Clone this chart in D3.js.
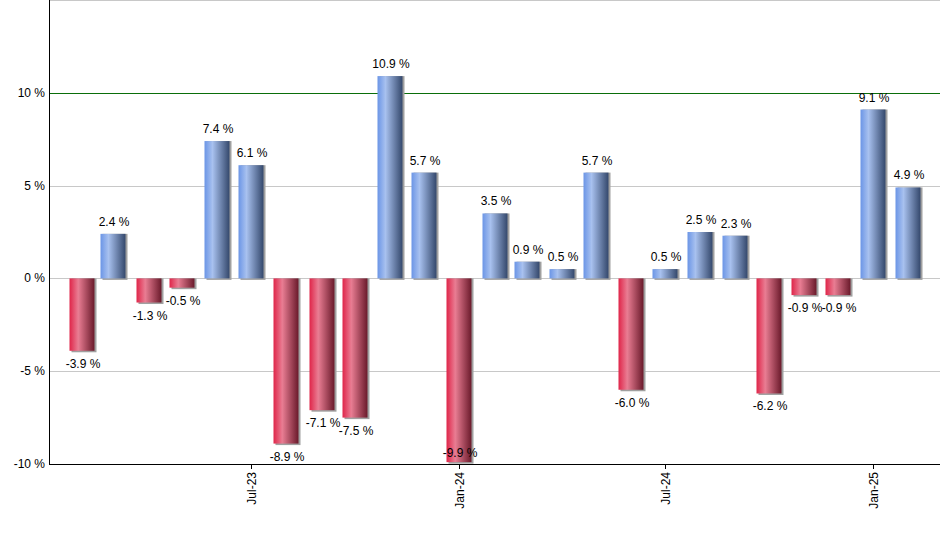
<!DOCTYPE html>
<html><head><meta charset="utf-8">
<script src="https://cdn.jsdelivr.net/npm/d3@7"></script>
<style>body{margin:0;background:#fff}svg{display:block;font-family:"Liberation Sans",Arial,sans-serif}</style>
</head><body><svg id="c" width="940" height="550"></svg>
<script>
const months = ["2023-02","2023-03","2023-04","2023-05","2023-06","2023-07","2023-08","2023-09","2023-10","2023-11","2023-12","2024-01","2024-02","2024-03","2024-04","2024-05","2024-06","2024-07","2024-08","2024-09","2024-10","2024-11","2024-12","2025-01","2025-02"];
const values = [-3.9,2.4,-1.3,-0.5,7.4,6.1,-8.9,-7.1,-7.5,10.9,5.7,-9.9,3.5,0.9,0.5,5.7,-6.0,0.5,2.5,2.3,-6.2,-0.9,-0.9,9.1,4.9];
const xTickMonths = ["2023-07","2024-01","2024-07","2025-01"];
const xTickLabels = ["Jul-23","Jan-24","Jul-24","Jan-25"];
const yTicks = [-10,-5,0,5,10];
const gridTicks = [-5,0,5,15];

const parse = d3.utcParse("%Y-%m");
const svg = d3.select("#c");
const L = 49, R = 940, T = 0, B = 464, BW = 25;
const y = d3.scaleLinear().domain([-10,15]).range([B,T]);
const x = d3.scaleUtc().domain([Date.UTC(2023,0,3), Date.UTC(2025,2,1)]).range([L,R]);

const defs = svg.append("defs");
function grad(id, stops){
  const g = defs.append("linearGradient").attr("id",id).attr("x1","0").attr("x2","1").attr("y1","0").attr("y2","0");
  stops.forEach(s=>g.append("stop").attr("offset",s[0]).attr("stop-color",s[1]));
}
grad("gPos",[["0%","#6b95e6"],["32%","#a8c1ef"],["100%","#34486c"]]);
grad("gNeg",[["0%","#df2549"],["35%","#e97d93"],["100%","#6a1a2b"]]);

// grid
svg.append("g").selectAll("line").data(gridTicks).join("line")
  .attr("x1",L).attr("x2",R).attr("y1",d=>Math.round(y(d))+0.5).attr("y2",d=>Math.round(y(d))+0.5)
  .attr("stroke","#c8c8c8").attr("stroke-width",1);
svg.append("line").attr("x1",L).attr("x2",R).attr("y1",Math.round(y(10))+0.5).attr("y2",Math.round(y(10))+0.5)
  .attr("stroke","#0a6e0a").attr("stroke-width",1);

// bars
const data = months.map((m,i)=>({d: parse(m), v: values[i]}));
const cx = d => Math.round(x(d.d));
const bars = svg.append("g");
bars.selectAll("rect.sh").data(data).join("rect").attr("class","sh")
  .attr("x",d=>cx(d)-BW/2+2).attr("width",BW)
  .attr("y",d=>Math.min(y(d.v),y(0))).attr("height",d=>Math.abs(y(d.v)-y(0))+1.5)
  .attr("fill","#a0a0a0");
bars.selectAll("rect.b").data(data).join("rect").attr("class","b")
  .attr("x",d=>cx(d)-BW/2).attr("width",BW)
  .attr("y",d=>Math.min(y(d.v),y(0))).attr("height",d=>Math.abs(y(d.v)-y(0)))
  .attr("fill",d=>d.v>=0?"url(#gPos)":"url(#gNeg)");

// labels
const labelY = d => {
  if (d.v >= 0) return y(d.v) - 8;
  const p = y(d.v) + 17;
  return p > B ? B - 7 : p;
};
svg.append("g").selectAll("text").data(data).join("text")
  .attr("x",d=>cx(d)+1)
  .attr("y",labelY)
  .attr("text-anchor","middle").attr("font-size",12).attr("fill","#000")
  .text(d=>d.v.toFixed(1)+" %");

// axes
svg.append("line").attr("x1",L+0.5).attr("x2",L+0.5).attr("y1",T).attr("y2",B+1).attr("stroke","#000");
svg.append("line").attr("x1",L).attr("x2",R).attr("y1",B+0.5).attr("y2",B+0.5).attr("stroke","#000");

svg.append("g").selectAll("text").data(yTicks).join("text")
  .attr("x",L-4).attr("y",d=>y(d)+4).attr("text-anchor","end").attr("font-size",12)
  .text(d=>d+" %");

const labelOf = new Map(xTickMonths.map((m,i)=>[+parse(m), xTickLabels[i]]));
const xa = svg.append("g").attr("transform",`translate(0,${B})`)
  .call(d3.axisBottom(x).tickValues(xTickMonths.map(parse)).tickFormat(d=>labelOf.get(+d)).tickSize(5).tickSizeOuter(0));
xa.select(".domain").remove();
xa.selectAll(".tick").attr("transform",d=>`translate(${Math.round(x(d))+0.5},0)`);
xa.selectAll(".tick line").attr("stroke","#000");
xa.selectAll(".tick text").attr("font-size",12).attr("font-family","'Liberation Sans',Arial,sans-serif").attr("fill","#000")
  .attr("transform","rotate(-90)").attr("text-anchor","end").attr("x",-8).attr("y",0).attr("dy","0.35em");
</script></body></html>
